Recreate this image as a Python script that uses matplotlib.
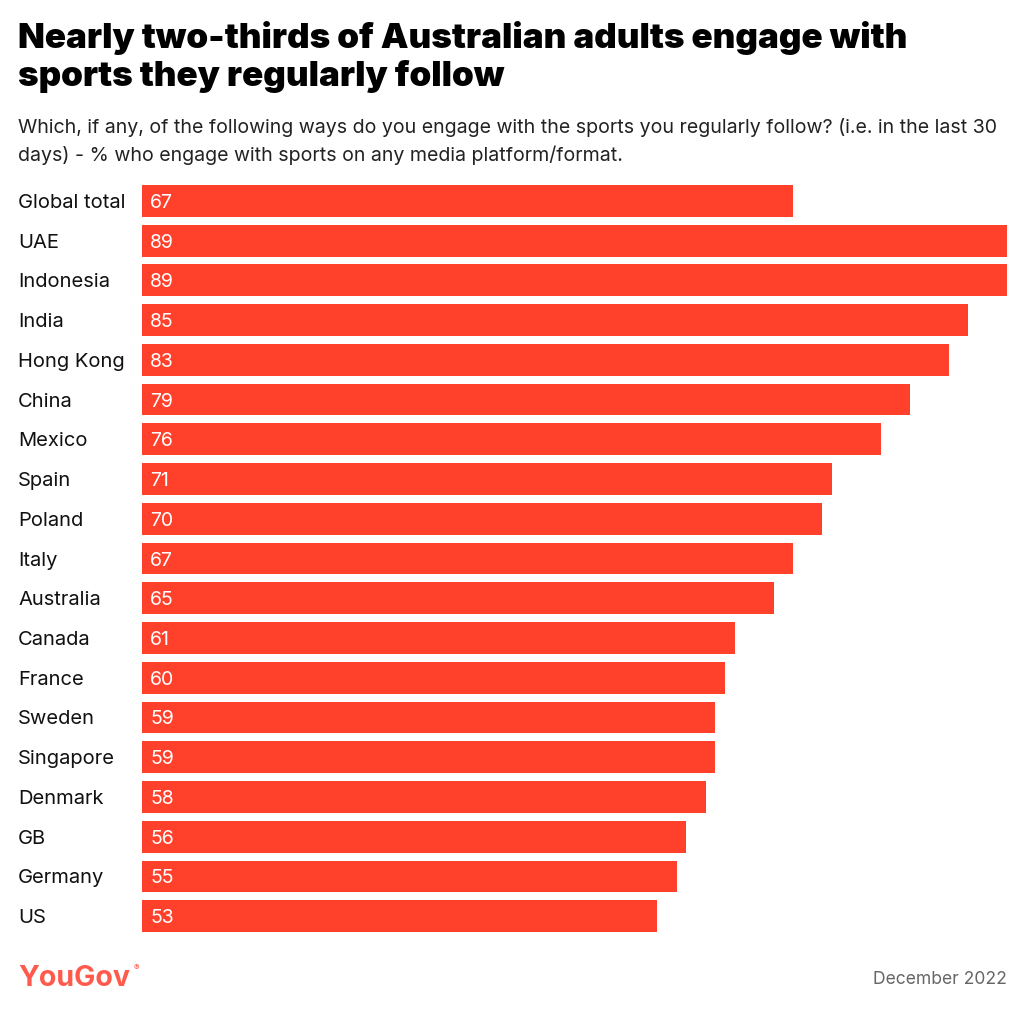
import matplotlib.pyplot as plt

# Data
countries = ['Global total', 'UAE', 'Indonesia', 'India', 'Hong Kong', 'China',
             'Mexico', 'Spain', 'Poland', 'Italy', 'Australia', 'Canada',
             'France', 'Sweden', 'Singapore', 'Denmark', 'GB', 'Germany', 'US']
values = [67, 89, 89, 85, 83, 79, 76, 71, 70, 67, 65, 61, 60, 59, 59, 58, 56, 55, 53]

bar_color = '#FF412C'
plt.rcParams['font.family'] = ['Inter', 'DejaVu Sans']

fig = plt.figure(figsize=(10.24, 10.11), dpi=100)
ax = fig.add_axes([142 / 1024, 1 - 936 / 1011, 865 / 1024, 755 / 1011])

y = list(range(len(countries)))
ax.barh(y, values, height=0.8, color=bar_color)
ax.set_xlim(0, 89)
ax.set_ylim(len(countries) - 0.5, -0.5)
ax.axis('off')

for i, (c, v) in enumerate(zip(countries, values)):
    ax.annotate(str(v), xy=(0, i), xytext=(8, 0), textcoords='offset pixels',
                color='white', fontsize=14, va='center_baseline', ha='left')
    ax.annotate(c, xy=(0, i), xytext=(-124, 0), textcoords='offset pixels',
                va='center_baseline', ha='left', fontsize=14.5, color='#111111')

fig.text(18 / 1024, 1 - 21 / 1011,
         'Nearly two-thirds of Australian adults engage with\nsports they regularly follow',
         fontsize=25.2, fontweight='black', va='top', ha='left', linespacing=1.2)
fig.text(18 / 1024, 1 - 118 / 1011,
         'Which, if any, of the following ways do you engage with the sports you regularly follow? (i.e. in the last 30\n'
         'days) - % who engage with sports on any media platform/format.',
         fontsize=14.1, va='top', ha='left', color='#222222', linespacing=1.55)

fig.text(18 / 1024, 1 - 978 / 1011, 'YouGov', fontsize=20.5, fontweight='bold',
         color='#FF5A4C', va='center', ha='left')
fig.text(134 / 1024, 1 - 968 / 1011, '®', fontsize=6, color='#FF5A4C',
         va='center', ha='left')
fig.text(1007 / 1024, 1 - 980 / 1011, 'December 2022', fontsize=12.6,
         color='#666666', va='center', ha='right')

fig.savefig('out.png', dpi=100)
